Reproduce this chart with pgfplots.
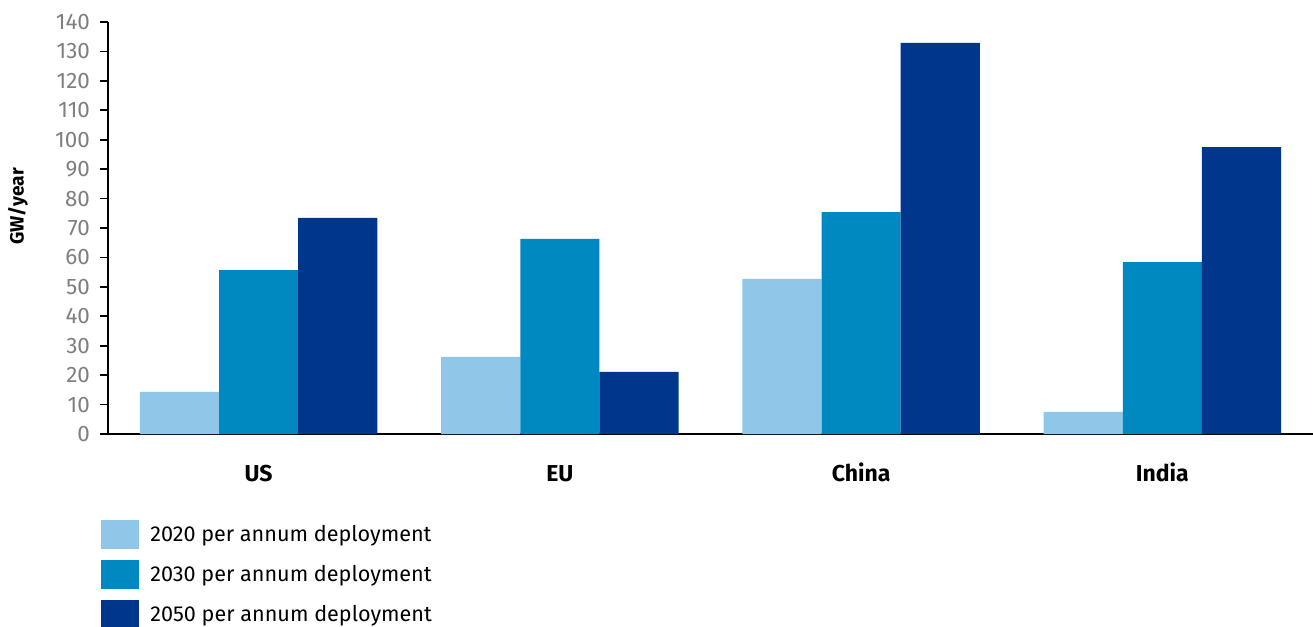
\documentclass[border=0pt]{standalone}
\usepackage{fontspec}
\setmainfont{Fira Sans}
\usepackage{pgfplots}
\pgfplotsset{compat=1.18}
\definecolor{cA}{HTML}{90C7E8}
\definecolor{cB}{HTML}{0088C0}
\definecolor{cC}{HTML}{00378D}
\definecolor{tickgray}{HTML}{7F7F7F}
\begin{document}
\begin{tikzpicture}
\path[use as bounding box] (-54pt,-96.5pt) rectangle (602.5pt,217pt);
\begin{axis}[
  at={(0pt,0pt)}, anchor=south west,
  scale only axis, width=602.5pt, height=206pt,
  xmin=-0.5, xmax=3.5, ymin=0, ymax=140,
  axis lines=left, axis line style={-, black, line width=0.9pt},
  ytick={0,10,...,140},
  xtick={0,1,2,3}, xticklabels={US,EU,China,India},
  x tick style={draw=none},
  y tick style={black, line width=0.9pt},
  tick align=outside, major tick length=4pt,
  yticklabel style={font=\fontsize{11.2}{13}\selectfont, text=tickgray, xshift=-1.5pt},
  /pgf/number format/assume math mode=true,
  xticklabel style={font=\fontsize{11.5}{13}\bfseries, anchor=base, yshift=-19.5pt},
  ylabel={GW/year},
  ylabel style={font=\fontsize{9.6}{11}\bfseries, at={(axis description cs:-0.0747,0.552)}, anchor=center},
  legend style={at={(-3.5pt,-43pt)}, anchor=north west, draw=none, fill=none,
    font=\fontsize{10.8}{13}\selectfont, row sep=5.5pt,
    legend cell align=left, inner sep=0pt,
    /tikz/every even column/.style={column sep=0pt}},
  legend image code/.code={\fill[#1] (0pt,-7.2pt) rectangle (19pt,7.2pt);},
  clip=false,
]
\addplot[ybar, bar width=0.2627, bar shift=-0.2627, fill=cA, draw=none] coordinates {(0,14.3) (1,26.2) (2,52.7) (3,7.5)};
\addplot[ybar, bar width=0.2627, bar shift=0, fill=cB, draw=none] coordinates {(0,55.7) (1,66.3) (2,75.4) (3,58.4)};
\addplot[ybar, bar width=0.2627, bar shift=0.2627, fill=cC, draw=none] coordinates {(0,73.4) (1,21.1) (2,132.9) (3,97.5)};
\legend{\hspace{3.5pt}2020 per annum deployment, \hspace{3.5pt}2030 per annum deployment, \hspace{3.5pt}2050 per annum deployment}
\end{axis}
\end{tikzpicture}
\end{document}
